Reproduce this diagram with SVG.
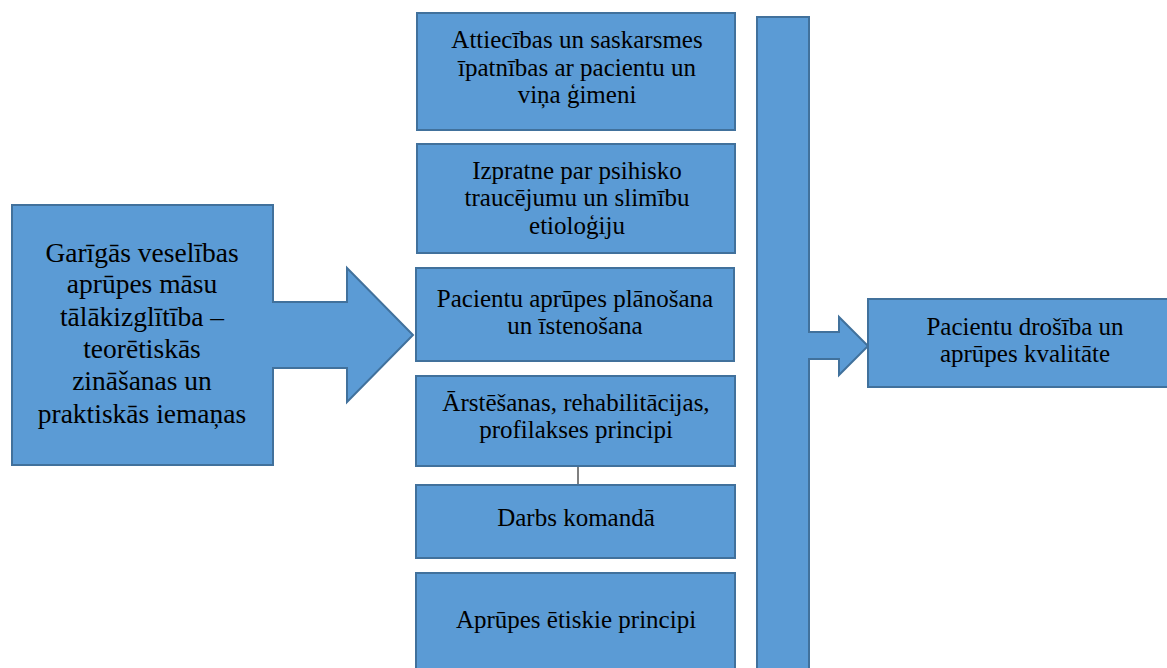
<svg xmlns="http://www.w3.org/2000/svg" width="1167" height="668" viewBox="0 0 1167 668">
<defs>
<style>
.b{fill:#5B9BD5;stroke:#41719C;stroke-width:2}
text{font-family:'Liberation Serif','Times New Roman',serif;font-size:25px;fill:#000;text-anchor:middle}
.tl{font-size:27.5px}
</style>
</defs>
<rect width="1167" height="668" fill="#fff"/>
<g id="connectors">
<line x1="578" y1="466" x2="578" y2="497" stroke="#555" stroke-width="1.5"/>
</g>
<g id="n-left">
<path class="b" d="M12 205 H273 V302 H347 V268 L413 335 L347 402 V368 H273 V465 H12 Z"/>
<text class="tl"><tspan x="142" y="262">Garīgās veselības</tspan><tspan x="142" y="293">aprūpes māsu</tspan><tspan x="142" y="326">tālākizglītība –</tspan><tspan x="142" y="358">teorētiskās</tspan><tspan x="142" y="390">zināšanas un</tspan><tspan x="142" y="423">praktiskās iemaņas</tspan></text>
</g>
<g id="n1">
<rect class="b" x="417" y="13" width="318" height="117"/>
<text><tspan x="577" y="48">Attiecības un saskarsmes</tspan><tspan x="577" y="76">īpatnības ar pacientu un</tspan><tspan x="577" y="103">viņa ģimeni</tspan></text>
</g>
<g id="n2">
<rect class="b" x="417" y="144" width="318" height="109"/>
<text><tspan x="577" y="179">Izpratne par psihisko</tspan><tspan x="577" y="206">traucējumu un slimību</tspan><tspan x="577" y="234">etioloģiju</tspan></text>
</g>
<g id="n3">
<rect class="b" x="416" y="268" width="318" height="93"/>
<text><tspan x="575" y="307">Pacientu aprūpes plānošana</tspan><tspan x="575" y="334">un īstenošana</tspan></text>
</g>
<g id="n4">
<rect class="b" x="416" y="376" width="319" height="90"/>
<text><tspan x="576" y="411">Ārstēšanas, rehabilitācijas,</tspan><tspan x="576" y="438">profilakses principi</tspan></text>
</g>
<g id="n5">
<rect class="b" x="416" y="485" width="319" height="73"/>
<text x="576" y="526">Darbs komandā</text>
</g>
<g id="n6">
<rect class="b" x="416" y="573" width="319" height="100"/>
<text x="576" y="628">Aprūpes ētiskie principi</text>
</g>
<g id="n-bar">
<path class="b" d="M757 17 H809 V332 H839 V317 L868 346 L839 375 V359 H809 V675 H757 Z"/>
</g>
<g id="n-right">
<rect class="b" x="868" y="299" width="305" height="88"/>
<text><tspan x="1025" y="335">Pacientu drošība un</tspan><tspan x="1025" y="362">aprūpes kvalitāte</tspan></text>
</g>
</svg>
